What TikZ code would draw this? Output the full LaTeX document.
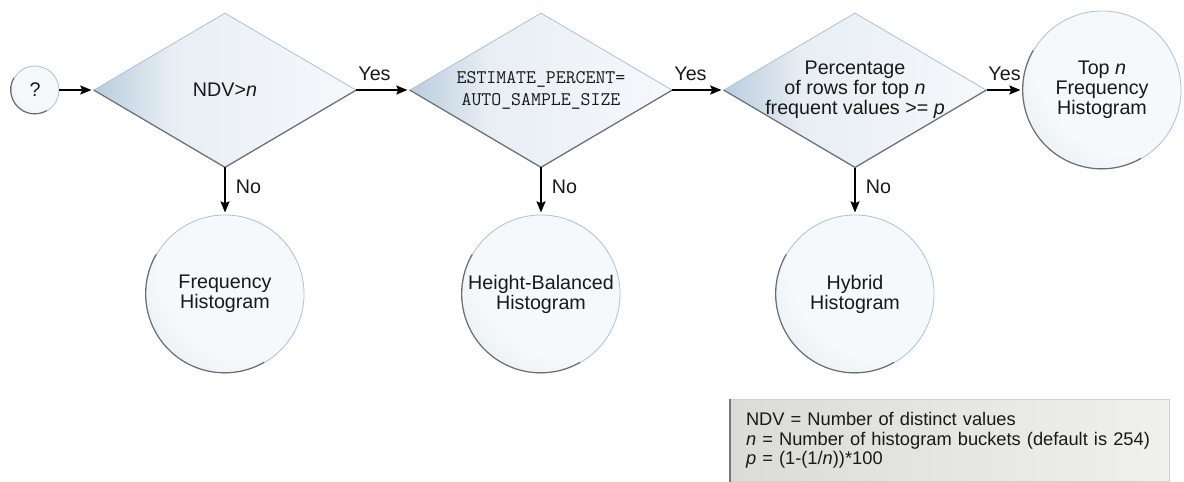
\documentclass[tikz,border=0pt]{standalone}
\usepackage{fontspec}
\setmainfont{Liberation Sans}
\usetikzlibrary{arrows.meta,shapes.geometric}
\definecolor{inkdark}{RGB}{25,25,25}
\definecolor{rimlight}{RGB}{172,196,216}
\definecolor{rimdark}{RGB}{105,108,112}
\definecolor{tipblue}{RGB}{186,205,221}
\definecolor{midblue}{RGB}{232,238,244}
\definecolor{paleblue}{RGB}{246,248,251}
\definecolor{bubblein}{RGB}{246,249,251}
\definecolor{bubbleout}{RGB}{190,208,223}
\definecolor{legleft}{RGB}{219,219,216}
\definecolor{legright}{RGB}{240,240,238}
\definecolor{legrim}{RGB}{208,208,206}
\definecolor{legedge}{RGB}{120,120,120}
\pgfdeclareradialshading{bubble}{\pgfpoint{15bp}{15bp}}{%
  color(0bp)=(bubblein); color(30bp)=(bubblein); color(64bp)=(bubbleout); color(75bp)=(bubbleout)}
\pgfdeclarehorizontalshading{facet}{100bp}{%
  color(0bp)=(tipblue); color(25bp)=(tipblue); color(40bp)=(midblue); color(75bp)=(paleblue); color(100bp)=(paleblue)}

\begin{document}
\begin{tikzpicture}[
    x=0.025cm, y=-0.025cm,
    >={Stealth[length=8pt, width=6.5pt, inset=1.5pt]},
    every node/.style={text=inkdark, font=\fontsize{14pt}{14.2pt}\selectfont},
    decision/.style={diamond, draw=rimlight, line width=0.6pt, shade, shading=facet, minimum width=6.55cm, minimum height=3.85cm, aspect=1.7, inner sep=-2pt, align=center},
    outcome/.style={circle, draw=rimlight, line width=0.6pt, shade, shading=bubble, minimum size=3.95cm, inner sep=1pt, align=center},
    flow/.style={->, line width=0.8pt, black, shorten >=1.5pt},
    yeslbl/.style={pos=0, anchor=base west, inner sep=1pt, yshift=7pt},
    nolbl/.style={pos=0.42, right, xshift=4pt},
    rim/.style={rimdark, line width=0.8pt},
    legend/.style={rectangle, left color=legleft, right color=legright, draw=legrim, line width=0.6pt, minimum width=10.975cm, minimum height=2.05cm, text width=10.2cm, inner xsep=0.39cm, align=left, font=\fontsize{13pt}{14pt}\selectfont}
]
\useasboundingbox (0,0) rectangle (1184,481);

% 1. START
\node[outcome, minimum size=1.2cm] (start) at (35,90) {?};

% 2. DECISIONS
\node[decision] (ndv) at (225,90) {NDV>\textit{n}};
\node[decision, font=\ttfamily\fontsize{13.7pt}{15.6pt}\selectfont] (est) at (541,90) {ESTIMATE\_PERCENT=\\AUTO\_SAMPLE\_SIZE};
\node[decision] (share) at (855,90) {Percentage\\of rows for top \textit{n}\\frequent values >= \textit{p}};
\foreach \d in {ndv,est,share}
    \draw[rim] (\d.west) -- (\d.south) -- (\d.east);

% 3. HISTOGRAM TYPES
\node[outcome] (freq) at (225,294) {Frequency\\Histogram};
\node[outcome] (hb) at (541,294) {Height-Balanced\\Histogram};
\node[outcome] (hybrid) at (855,294) {Hybrid\\Histogram};
\node[outcome] (topn) at (1102,90) {Top \textit{n}\\Frequency\\Histogram};
\foreach \c/\r in {start/0.6cm, freq/1.975cm, hb/1.975cm, hybrid/1.975cm, topn/1.975cm}
    \draw[rim] (\c.150) arc[start angle=150, end angle=300, radius=\r];

% 4. FLOW
\draw[flow] (start) -- (ndv);
\draw[flow] (ndv) -- (est) node[yeslbl] {Yes};
\draw[flow] (est) -- (share) node[yeslbl] {Yes};
\draw[flow] (share) -- (topn) node[yeslbl] {Yes};
\draw[flow] (ndv) -- (freq) node[nolbl] {No};
\draw[flow] (est) -- (hb) node[nolbl] {No};
\draw[flow] (share) -- (hybrid) node[nolbl] {No};

% 5. KEY
\node[legend, anchor=north west] (key) at (730,399) {NDV = Number of distinct values\\
    \textit{n} = Number of histogram buckets (default is 254)\\
    \textit{p} = (1-(1/\textit{n}))*100};
\draw[legedge, line width=1pt] (key.north west) -- (key.south west);

\end{tikzpicture}
\end{document}
